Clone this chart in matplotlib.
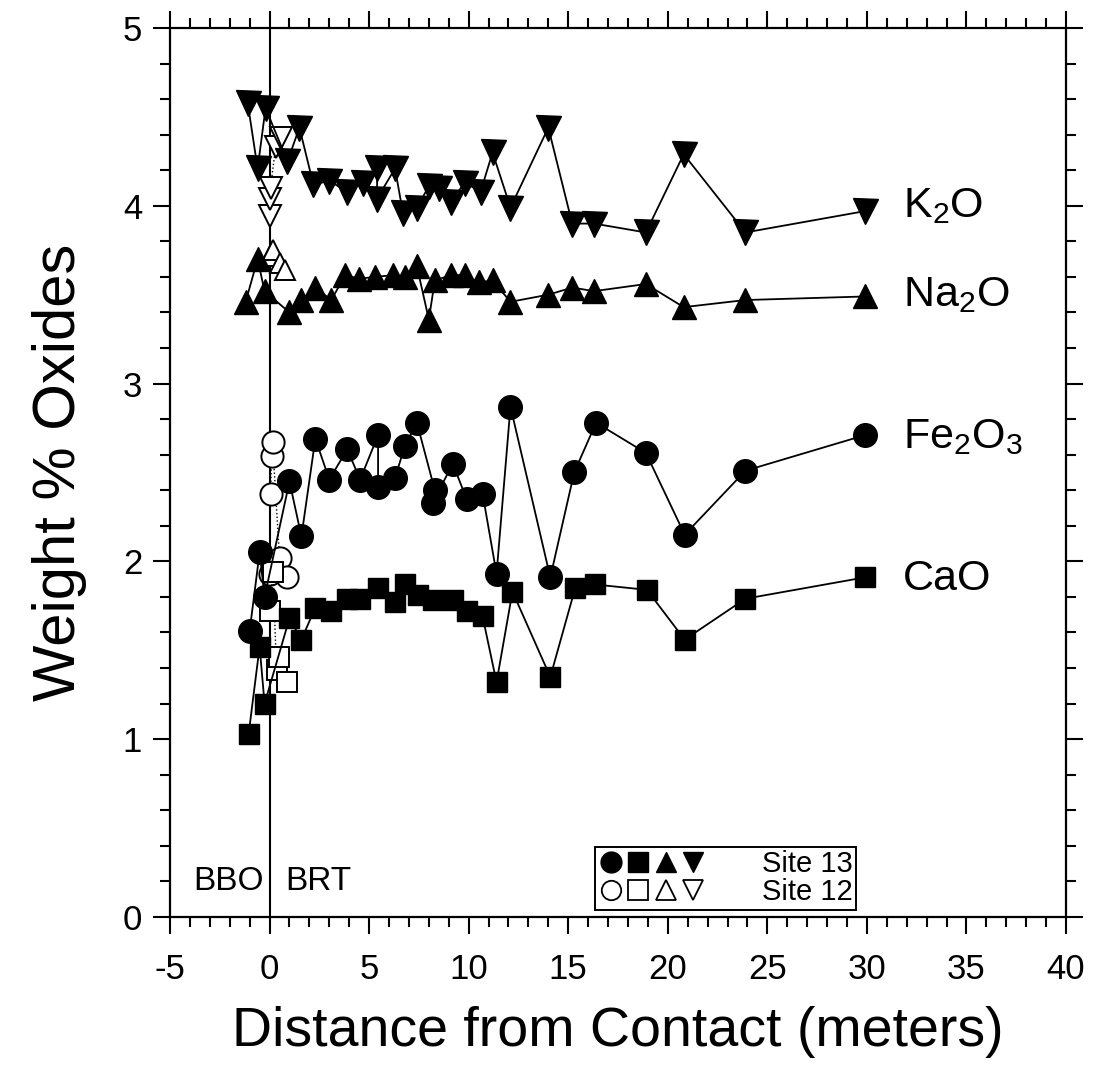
import numpy as np
import matplotlib
matplotlib.use('Agg')
import matplotlib.pyplot as plt
from matplotlib.ticker import MultipleLocator
from matplotlib.lines import Line2D
from matplotlib.legend_handler import HandlerTuple

plt.rcParams['font.family'] = ['Liberation Sans', 'DejaVu Sans']
plt.rcParams['mathtext.fontset'] = 'custom'
plt.rcParams['mathtext.rm'] = 'Liberation Sans'
plt.rcParams['axes.unicode_minus'] = False

# site 13 (filled symbols)
k2o_x = [-1.1, -0.6, -0.2, 0.9, 1.5, 2.2, 3.0, 3.9, 4.7, 5.4, 5.4, 6.3, 6.7, 7.4, 8.0, 8.5,
         9.1, 9.8, 10.6, 11.2, 12.1, 14.0, 15.2, 16.3, 18.9, 20.8, 23.9, 29.9]
k2o_y = [4.58, 4.21, 4.55, 4.25, 4.44, 4.12, 4.14, 4.08, 4.13, 4.21, 4.04, 4.21, 3.96, 3.99, 4.11, 4.10,
         4.02, 4.13, 4.08, 4.30, 3.99, 4.44, 3.90, 3.90, 3.85, 4.29, 3.85, 3.97]

na2o_x = [-1.2, -0.6, -0.25, 1.0, 1.6, 2.3, 3.1, 3.8, 4.5, 5.3, 6.2, 6.8, 7.4, 8.0, 8.3,
          9.1, 9.8, 10.5, 11.2, 12.1, 14.0, 15.2, 16.3, 18.9, 20.8, 23.9, 29.9]
na2o_y = [3.46, 3.70, 3.52, 3.40, 3.47, 3.54, 3.47, 3.61, 3.59, 3.60, 3.61, 3.60, 3.66, 3.36, 3.58,
          3.61, 3.61, 3.57, 3.58, 3.46, 3.50, 3.54, 3.52, 3.56, 3.43, 3.47, 3.49]

fe2o3_x = [-1.0, -0.5, -0.25, 1.0, 1.6, 2.3, 3.0, 3.9, 4.55, 5.45, 5.45, 6.3, 6.8, 7.4, 8.3, 8.2,
           9.2, 9.9, 10.7, 11.4, 12.1, 14.1, 15.3, 16.4, 18.9, 20.85, 23.9, 29.9]
fe2o3_y = [1.61, 2.05, 1.80, 2.45, 2.14, 2.69, 2.46, 2.63, 2.46, 2.71, 2.42, 2.47, 2.65, 2.78, 2.40, 2.33,
           2.55, 2.35, 2.38, 1.93, 2.87, 1.91, 2.50, 2.78, 2.61, 2.15, 2.51, 2.71]

cao_x = [-1.05, -0.5, -0.25, 1.0, 1.6, 2.3, 3.1, 3.9, 4.55, 5.45, 6.3, 6.8, 7.45, 8.2, 9.2,
         9.9, 10.7, 11.4, 12.2, 14.1, 15.35, 16.35, 18.95, 20.85, 23.9, 29.9]
cao_y = [1.03, 1.52, 1.20, 1.68, 1.56, 1.74, 1.72, 1.79, 1.79, 1.85, 1.77, 1.87, 1.81, 1.78, 1.78,
         1.72, 1.69, 1.32, 1.83, 1.35, 1.85, 1.87, 1.84, 1.56, 1.79, 1.91]

# site 12 (open symbols)
k2o12_x = [0.0, 0.0, 0.05, 0.3, 0.55]
k2o12_y = [3.94, 4.04, 4.10, 4.33, 4.38]
na2o12_x = [0.0, 0.15, 0.5, 0.8]
na2o12_y = [3.72, 3.75, 3.68, 3.64]
fe2o312_x = [0.0, 0.05, 0.1, 0.15, 0.5, 0.9]
fe2o312_y = [1.93, 2.38, 2.59, 2.67, 2.02, 1.91]
cao12_x = [0.0, 0.17, 0.35, 0.45, 0.88]
cao12_y = [1.72, 1.94, 1.39, 1.46, 1.32]

labels = ['$\\mathregular{K_2O}$', '$\\mathregular{Na_2O}$', '$\\mathregular{Fe_2O_3}$', 'CaO']
label_y = [4.0, 3.5, 2.7, 1.9]
site_names = ['Site 13', 'Site 12']

fig = plt.figure(figsize=(10.94, 10.65), dpi=100)
ax = fig.add_axes([0.1554, 0.139, 0.819, 0.8347])

ax.axvline(0, color='black', lw=1.5, zorder=1)

site13 = [(fe2o3_x, fe2o3_y, 'o', 17), (cao_x, cao_y, 's', 15),
          (na2o_x, na2o_y, '^', 17), (k2o_x, k2o_y, 'v', 18)]
site12 = [(fe2o312_x, fe2o312_y, 'o', 16), (cao12_x, cao12_y, 's', 14),
          (na2o12_x, na2o12_y, '^', 15), (k2o12_x, k2o12_y, 'v', 16)]

for x, y, m, ms in site13:
    ax.plot(x, y, color='black', lw=1.3, marker=m, ms=ms, mfc='black', mec='black', zorder=3)
for x, y, m, ms in site12:
    ax.plot(x, y, color='black', lw=1.0, ls=':', marker=m, ms=ms, mfc='white', mec='black', mew=1.4, zorder=2)

for lab, yy in zip(labels, label_y):
    ax.text(31.8, yy, lab, fontsize=31, va='center', ha='left')

ax.text(-3.85, 0.2, 'BBO', fontsize=24, va='center', ha='left')
ax.text(0.8, 0.2, 'BRT', fontsize=24, va='center', ha='left')

# legend: one row of four symbols per site
h13 = tuple(Line2D([], [], ls='none', marker=m, ms=15, mfc='black', mec='black') for _, _, m, _ in site13)
h12 = tuple(Line2D([], [], ls='none', marker=m, ms=14, mfc='white', mec='black', mew=1.3) for _, _, m, _ in site12)
leg = ax.legend([h13, h12], site_names, handler_map={tuple: HandlerTuple(ndivide=None, pad=0.05)},
                loc='lower left', bbox_to_anchor=(0.474, 0.008), fontsize=21, handlelength=3.7,
                handletextpad=1.9, borderpad=0.12, labelspacing=0.0, borderaxespad=0,
                fancybox=False, framealpha=1, edgecolor='black')
leg.get_frame().set_linewidth(1.4)

ax.set_xlim(-5, 40)
ax.set_ylim(0, 5)
ax.xaxis.set_major_locator(MultipleLocator(5))
ax.xaxis.set_minor_locator(MultipleLocator(1))
ax.yaxis.set_major_locator(MultipleLocator(1))
ax.yaxis.set_minor_locator(MultipleLocator(0.2))
ax.tick_params(which='both', direction='out', top=True, right=True, width=1.5, labelsize=25)
ax.tick_params(which='major', length=12)
ax.tick_params(axis='x', which='major', pad=14)
ax.tick_params(axis='y', which='major', pad=8)
ax.tick_params(which='minor', length=7)
for s in ax.spines.values():
    s.set_linewidth(1.6)

ax.set_xlabel('Distance from Contact (meters)', fontsize=40, labelpad=14)
ax.set_ylabel('Weight % Oxides', fontsize=43, labelpad=26)

fig.savefig('out.png', dpi=100)
